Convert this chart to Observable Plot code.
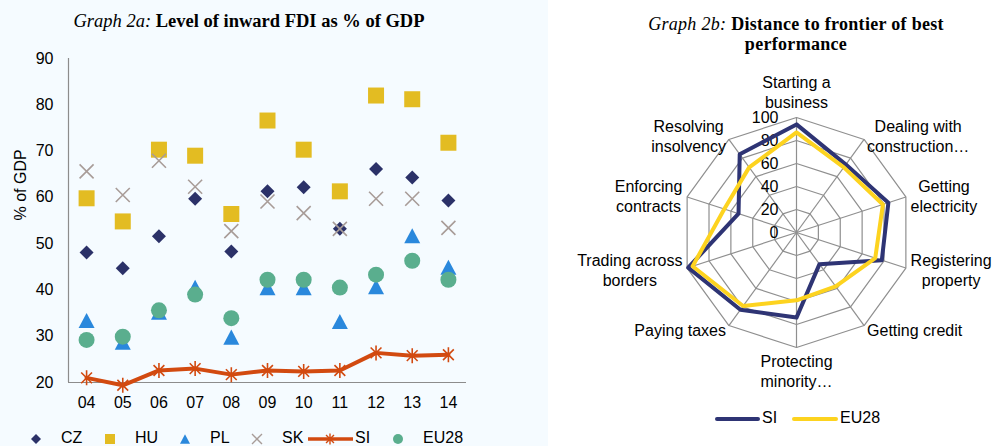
<!DOCTYPE html>
<html><head><meta charset="utf-8">
<script src="https://cdn.jsdelivr.net/npm/d3@7"></script>
<script src="https://cdn.jsdelivr.net/npm/@observablehq/plot@0.6"></script>
<style>
body{margin:0;width:993px;height:446px;overflow:hidden;background:#fff;font-family:"Liberation Sans",Arial,sans-serif;}
#page{position:relative;width:993px;height:446px;overflow:hidden;background:#fff}
#left{position:absolute;left:0;top:0;width:548px;height:446px;background:#f5fbff}
.title{position:absolute;font-family:"Liberation Serif","Times New Roman",serif;color:#000;text-align:center;white-space:nowrap}
.title i{font-weight:normal}
.title b{font-weight:bold}
.chart{position:absolute}
.leg{position:absolute;font-size:16px;line-height:16px;color:#000;white-space:nowrap}
.icon{position:absolute;overflow:visible}
</style></head>
<body>
<div id="page">
  <div id="left">
    <div class="title" style="left:0;width:498px;top:12px;font-size:18.5px;line-height:18.5px"><i>Graph 2a:</i> <b>Level of inward FDI as % of GDP</b></div>
    <div id="leftChart" class="chart" style="left:0;top:40px"></div>
    <div id="leftLegend"></div>
  </div>
  <div class="title" style="left:636px;width:320px;top:14px;font-size:18px;line-height:20px;letter-spacing:0.3px"><i>Graph 2b:</i> <b>Distance to frontier of best<br>performance</b></div>
  <div id="radarChart" class="chart" style="left:548px;top:58px"></div>
  <div id="radarLegend"></div>
</div>
<script>
// ---------- Data: Graph 2a ----------
const years = ["04","05","06","07","08","09","10","11","12","13","14"];
const yTicks = [20, 30, 40, 50, 60, 70, 80, 90];
const seriesNames = ["CZ", "HU", "PL", "SK", "SI", "EU28"];
const cz   = [48.1, 44.7, 51.6, 59.7, 48.3, 61.3, 62.2, 53.2, 66.1, 64.3, 59.3];
const hu   = [59.8, 54.8, 70.3, 69.0, 56.4, 76.6, 70.3, 61.3, 82.0, 81.2, 71.8];
const pl   = [33.4, 28.7, 35.2, 40.6, 29.8, 40.5, 40.5, 33.2, 40.7, 51.7, 44.9];
const sk   = [65.6, 60.5, 67.9, 62.3, 52.7, 59.1, 56.6, 53.2, 59.7, 59.7, 53.4];
const si   = [21.0, 19.4, 22.6, 23.0, 21.7, 22.6, 22.4, 22.6, 26.4, 25.8, 26.0];
const eu28 = [29.2, 29.9, 35.6, 39.0, 33.9, 42.2, 42.2, 40.5, 43.3, 46.3, 42.2];
const seriesColors = ["#2b3168", "#e3bc22", "#2a88dc", "#a89c98", "#d24a10", "#5aae8e"];

// ---------- Data: Graph 2b ----------
const radarCategories = ["Starting a\nbusiness", "Dealing with\nconstruction…", "Getting\nelectricity",
  "Registering\nproperty", "Getting credit", "Protecting\nminority…", "Paying taxes",
  "Trading across\nborders", "Enforcing\ncontracts", "Resolving\ninsolvency"];
const radarSI   = [94, 73, 84, 78, 34, 74, 83, 99, 53, 84];
const radarEU28 = [87, 70, 79, 72, 58, 59, 79, 95, 66, 70];
const radarTicks = [0, 20, 40, 60, 80, 100];
const radarNames = ["SI", "EU28"];
const radarColors = ["#2e3474", "#fdd31f"];

const FONT = "Liberation Sans, Arial, sans-serif";

// ---------- Symbols ----------
const rad = size => Math.sqrt(size / Math.PI);
const symbols = {
  diamond: {draw(c, s){const r = rad(s); c.moveTo(0,-r); c.lineTo(r,0); c.lineTo(0,r); c.lineTo(-r,0); c.closePath();}},
  square: {draw(c, s){const r = rad(s); c.rect(-r,-r,2*r,2*r);}},
  triangle: {draw(c, s){const r = rad(s); c.moveTo(0,-r*0.94); c.lineTo(r,r*0.94); c.lineTo(-r,r*0.94); c.closePath();}},
  times: {draw(c, s){const r = rad(s); c.moveTo(-r,-r); c.lineTo(r,r); c.moveTo(-r,r); c.lineTo(r,-r);}},
  star: {draw(c, s){const r = rad(s), d = r*0.72; c.moveTo(0,-r); c.lineTo(0,r); c.moveTo(-d,-d); c.lineTo(d,d); c.moveTo(-d,d); c.lineTo(d,-d);}},
  circle: {draw(c, s){const r = rad(s); c.moveTo(r,0); c.arc(0,0,r,0,2*Math.PI); c.closePath();}}
};
const seriesSymbols = ["diamond", "square", "triangle", "times", "star", "circle"];
const seriesR = [7, 8, 8, 7, 7.5, 8];

// ---------- Graph 2a ----------
const values = [cz, hu, pl, sk, si, eu28];
const rows = seriesNames.map((s, k) => years.map((y, i) => ({series: s, year: 2000 + +y, value: values[k][i]})));
const yearNums = years.map(y => 2000 + +y);

const dotMark = k => {
  const filled = seriesSymbols[k] !== "times" && seriesSymbols[k] !== "star";
  return Plot.dot(rows[k], {x: "year", y: "value", symbol: symbols[seriesSymbols[k]], r: seriesR[k],
    fill: filled ? seriesColors[k] : "none", stroke: filled ? "none" : seriesColors[k], strokeWidth: 1.6});
};

const leftPlot = Plot.plot({
  width: 548, height: 372,
  marginLeft: 68, marginRight: 82, marginTop: 18, marginBottom: 30,
  style: {background: "transparent", fontFamily: FONT, fontSize: "16px", color: "#000", overflow: "visible"},
  x: {domain: [yearNums[0] - 0.5, yearNums[yearNums.length - 1] + 0.5]},
  y: {domain: [yTicks[0], yTicks[yTicks.length - 1]]},
  marks: [
    Plot.axisX(yearNums, {tickSize: 0, tickPadding: 14, tickFormat: d => years[yearNums.indexOf(d)], label: null, fontSize: 16}),
    Plot.axisY(yTicks, {tickSize: 0, tickPadding: 15, label: null, fontSize: 16}),
    Plot.ruleX([yearNums[0] - 0.5], {stroke: "#8c8c8c", strokeWidth: 1.2}),
    Plot.ruleY([yTicks[0]], {stroke: "#8c8c8c", strokeWidth: 1.2}),
    Plot.text(["% of GDP"], {text: d => d, frameAnchor: "left", dx: -48, rotate: -90, fontSize: 16, fill: "#000"}),
    dotMark(0), dotMark(1), dotMark(2), dotMark(3),
    Plot.line(rows[4], {x: "year", y: "value", stroke: seriesColors[4], strokeWidth: 4}),
    dotMark(4),
    dotMark(5)
  ]
});
document.getElementById("leftChart").appendChild(leftPlot);

// legend for 2a
const legIconX = [36, 110, 185, 257, 330, 398];
const legTextX = [61, 135, 210, 282, 355, 423];
const legY = 439;
const leftLegend = document.getElementById("leftLegend");
seriesNames.forEach((name, k) => {
  const svg = d3.create("svg").attr("class", "icon")
    .attr("width", 60).attr("height", 20)
    .style("left", (legIconX[k] - 30) + "px").style("top", (legY - 10) + "px");
  const g = svg.append("g").attr("transform", "translate(30,10)");
  if (seriesSymbols[k] === "star") {
    g.append("line").attr("x1", -22).attr("x2", 23).attr("stroke", seriesColors[k]).attr("stroke-width", 3.5);
  }
  const smallR = seriesSymbols[k] === "star" ? 5.5 : 5;
  const filled = seriesSymbols[k] !== "times" && seriesSymbols[k] !== "star";
  g.append("path").attr("d", d3.symbol(symbols[seriesSymbols[k]], Math.PI * smallR * smallR)())
    .attr("fill", filled ? seriesColors[k] : "none")
    .attr("stroke", filled ? "none" : seriesColors[k]).attr("stroke-width", 1.4);
  leftLegend.appendChild(svg.node());
  const t = document.createElement("div");
  t.className = "leg"; t.textContent = name;
  t.style.left = legTextX[k] + "px"; t.style.top = (legY - 9) + "px";
  leftLegend.appendChild(t);
});

// ---------- Graph 2b ----------
const K = 1.15; // px per unit
const N = radarCategories.length;
const ang = i => 2 * Math.PI * i / N;
const px = (r, i) => r * Math.sin(ang(i));
const py = (r, i) => r * Math.cos(ang(i));
const ringLevels = radarTicks.filter(t => t > 0);
const rings = ringLevels.flatMap(level => radarCategories.map((c, i) => ({level, i})));
const spokes = radarCategories.map((c, i) => ({i}));
const radarRows = [radarSI, radarEU28].map((vals, s) => vals.map((v, i) => ({series: radarNames[s], v, i})));

const canvas = document.createElement("canvas").getContext("2d");
canvas.font = "16px 'Liberation Sans', Arial, sans-serif";
const labelR = 120 / K;
const labels = radarCategories.map((c, i) => {
  const lines = c.split("\n");
  const w = Math.max(...lines.map(l => canvas.measureText(l).width));
  const h = (lines.length - 1) * 20 + 16;
  const s = Math.sin(ang(i)), co = Math.cos(ang(i));
  const sx = Math.abs(s) < 0.1 ? 0 : Math.sign(s);
  const sy = Math.abs(co) > 0.9 ? Math.sign(co) : 0;
  const extra = sy > 0 ? 3 : 0;
  return {text: c, x: px(labelR, i) + sx * w / 2 / K, y: py(labelR, i) + sy * (h / 2 + extra) / K};
});

const radarPlot = Plot.plot({
  width: 445, height: 350,
  marginLeft: 133, marginRight: 82, marginTop: 59, marginBottom: 61,
  style: {background: "transparent", fontFamily: FONT, fontSize: "16px", color: "#000", overflow: "visible"},
  x: {domain: [-100, 100], axis: null},
  y: {domain: [-100, 100], axis: null},
  marks: [
    Plot.line(rings, {x: d => px(d.level, d.i), y: d => py(d.level, d.i), z: "level", curve: "linear-closed", stroke: "#8f8f8f", strokeWidth: 1.2}),
    Plot.link(spokes, {x1: () => 0, y1: () => 0, x2: d => px(100, d.i), y2: d => py(100, d.i), stroke: "#8f8f8f", strokeWidth: 1.2}),
    Plot.text(radarTicks, {x: () => 0, y: d => d, text: d => String(d), textAnchor: "end", dx: -18, fontSize: 16, fill: "#000"}),
    Plot.line(radarRows[0], {x: d => px(d.v, d.i), y: d => py(d.v, d.i), curve: "linear-closed", stroke: radarColors[0], strokeWidth: 4, strokeLinejoin: "round"}),
    Plot.line(radarRows[1], {x: d => px(d.v, d.i), y: d => py(d.v, d.i), curve: "linear-closed", stroke: radarColors[1], strokeWidth: 4, strokeLinejoin: "round"}),
    Plot.text(labels, {x: "x", y: "y", text: "text", lineHeight: 1.25, fontSize: 16, fill: "#000"})
  ]
});
document.getElementById("radarChart").appendChild(radarPlot);

// legend for 2b
const radarLegend = document.getElementById("radarLegend");
const rLegLine = [[717, 758], [794, 836]];
const rLegText = [762, 840];
const rLegY = 419;
radarNames.forEach((name, k) => {
  const svg = d3.create("svg").attr("class", "icon").attr("width", 60).attr("height", 10)
    .style("left", (rLegLine[k][0] - 5) + "px").style("top", (rLegY - 5) + "px");
  svg.append("line").attr("x1", 5).attr("x2", 5 + rLegLine[k][1] - rLegLine[k][0]).attr("y1", 5).attr("y2", 5)
    .attr("stroke", radarColors[k]).attr("stroke-width", 4).attr("stroke-linecap", "round");
  radarLegend.appendChild(svg.node());
  const t = document.createElement("div");
  t.className = "leg"; t.textContent = name;
  t.style.left = rLegText[k] + "px"; t.style.top = (rLegY - 9) + "px";
  radarLegend.appendChild(t);
});
</script>
</body></html>
